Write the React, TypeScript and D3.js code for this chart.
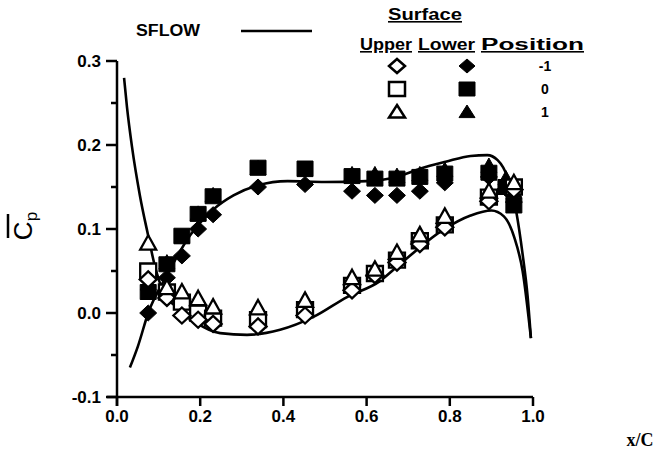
import React from "react";
import * as d3 from "d3";

// ---------- data ----------
const xTicks = [0, 0.2, 0.4, 0.6, 0.8, 1.0];
const yTicks = [-0.1, 0, 0.1, 0.2, 0.3];
const yMinor = [-0.05, 0.05, 0.15, 0.25];

const stations = [0.075, 0.12, 0.156, 0.195, 0.231, 0.339, 0.452, 0.565, 0.62, 0.673, 0.728, 0.788, 0.894, 0.935, 0.954];

// lower surface (filled)
const lowerDiamond = [0.0, 0.042, 0.068, 0.1, 0.117, 0.15, 0.153, 0.145, 0.14, 0.14, 0.145, 0.155, 0.162, 0.148, 0.132];
const lowerSquare = [0.025, 0.058, 0.092, 0.118, 0.139, 0.173, 0.172, 0.163, 0.16, 0.16, 0.162, 0.166, 0.167, 0.15, 0.128];
const lowerTriangle = [0.035, 0.06, 0.09, 0.118, 0.14, 0.172, 0.17, 0.165, 0.165, 0.163, 0.165, 0.17, 0.175, 0.16, 0.145];

// upper surface (open) - no reading at the 13th station
const upperDiamond = [0.04, 0.018, -0.003, -0.008, -0.013, -0.016, -0.003, 0.027, 0.045, 0.06, 0.082, 0.102, 0.133, null, 0.147];
const upperSquare = [0.05, 0.025, 0.013, 0.0, -0.006, -0.008, 0.004, 0.033, 0.047, 0.063, 0.086, 0.105, 0.138, null, 0.15];
const upperTriangle = [0.083, 0.03, 0.025, 0.017, 0.007, 0.006, 0.015, 0.042, 0.052, 0.072, 0.093, 0.115, 0.145, null, 0.155];

// SFLOW curves
const sflowLowerX = [0.031, 0.05, 0.075, 0.12, 0.175, 0.231, 0.28, 0.339, 0.41, 0.5, 0.6, 0.673, 0.73, 0.79, 0.85, 0.89, 0.915, 0.94, 0.96, 0.975, 0.987, 0.995];
const sflowLowerY = [-0.065, -0.04, 0.0, 0.045, 0.092, 0.123, 0.14, 0.152, 0.157, 0.156, 0.157, 0.162, 0.172, 0.18, 0.187, 0.188, 0.182, 0.16, 0.12, 0.07, 0.02, -0.03];
const sflowUpperX = [0.017, 0.024, 0.036, 0.055, 0.075, 0.09, 0.11, 0.151, 0.192, 0.248, 0.3125, 0.392, 0.471, 0.553, 0.632, 0.673, 0.784, 0.85, 0.9, 0.93, 0.955, 0.975, 0.995];
const sflowUpperY = [0.28, 0.245, 0.198, 0.14, 0.092, 0.058, 0.027, 0.004, -0.012, -0.024, -0.026, -0.02, -0.005, 0.019, 0.038, 0.055, 0.099, 0.116, 0.122, 0.115, 0.09, 0.05, -0.03];

const legendRows = ["-1", "0", "1"];

// ---------- helpers ----------
type Shape = "diamond" | "square" | "triangle";
function markerPath(shape: Shape, cx: number, cy: number, w: number, h: number) {
  if (shape === "square") return `M${cx - w},${cy - h}H${cx + w}V${cy + h}H${cx - w}Z`;
  if (shape === "diamond") return `M${cx},${cy - h}L${cx + w},${cy}L${cx},${cy + h}L${cx - w},${cy}Z`;
  return `M${cx},${cy - h}L${cx + w},${cy + h * 0.8}L${cx - w},${cy + h * 0.8}Z`;
}

const FONT = "'Liberation Sans', Arial, sans-serif";

export default function App() {
  const width = 666;
  const height = 464;
  const x = d3.scaleLinear().domain([0, 1]).range([117, 533]);
  const y = d3.scaleLinear().domain([-0.1, 0.3]).range([397, 61]);

  const line = d3
    .line<[number, number]>()
    .x((d) => x(d[0]))
    .y((d) => y(d[1]))
    .curve(d3.curveMonotoneX);

  const lowerCurve = line(sflowLowerX.map((v, i) => [v, sflowLowerY[i]] as [number, number])) || "";
  const upperCurve = line(sflowUpperX.map((v, i) => [v, sflowUpperY[i]] as [number, number])) || "";

  const series: { shape: Shape; filled: boolean; vals: (number | null)[] }[] = [
    { shape: "square", filled: true, vals: lowerSquare },
    { shape: "diamond", filled: true, vals: lowerDiamond },
    { shape: "triangle", filled: true, vals: lowerTriangle },
    { shape: "square", filled: false, vals: upperSquare },
    { shape: "diamond", filled: false, vals: upperDiamond },
    { shape: "triangle", filled: false, vals: upperTriangle },
  ];

  const size = (s: Shape) =>
    s === "square" ? [8, 7.5] : s === "diamond" ? [8.5, 8] : [8, 8];

  const legendShapes: Shape[] = ["diamond", "square", "triangle"];
  const legendY = [66, 89, 112];

  return (
    <svg
      width={width}
      height={height}
      style={{ display: "block", background: "#fff", position: "absolute", left: 0, top: 0 }}
    >
      {/* axes */}
      <g stroke="#000" strokeWidth={2.5} fill="none">
        <line x1={x(0)} x2={x(0)} y1={y(0.3)} y2={y(-0.1) + 9} />
        <line x1={x(0) - 10} x2={x(1)} y1={y(-0.1)} y2={y(-0.1)} />
        {yTicks.map((t) => (
          <line key={"yt" + t} x1={x(0) - 11} x2={x(0)} y1={y(t)} y2={y(t)} />
        ))}
        {yMinor.map((t) => (
          <line key={"ym" + t} x1={x(0) - 6} x2={x(0)} y1={y(t)} y2={y(t)} />
        ))}
        {xTicks.map((t) => (
          <line key={"xt" + t} x1={x(t)} x2={x(t)} y1={y(-0.1)} y2={y(-0.1) + 9} />
        ))}
      </g>
      <g fontFamily={FONT} fontWeight="bold" fontSize={17} fill="#000">
        {yTicks.map((t) => (
          <text key={"yl" + t} x={x(0) - 16} y={y(t)} textAnchor="end" dominantBaseline="central">
            {t.toFixed(1)}
          </text>
        ))}
        {xTicks.map((t) => (
          <text key={"xl" + t} x={x(t)} y={y(-0.1) + 25} textAnchor="middle">
            {t.toFixed(1)}
          </text>
        ))}
      </g>
      <text x={640} y={446} textAnchor="middle" fontFamily="'Liberation Serif', serif" fontWeight="bold" fontSize={18}>
        x/C
      </text>
      {/* y label */}
      <g transform={`translate(32, 226) rotate(-90)`}>
        <text x={0} y={0} textAnchor="middle" fontFamily={FONT} fontSize={26}>
          C<tspan fontSize={17} dy={5}>p</tspan>
        </text>
        <line x1={-12} x2={12} y1={-24} y2={-24} stroke="#000" strokeWidth={2.5} />
      </g>

      {/* SFLOW curves */}
      <path d={lowerCurve} fill="none" stroke="#000" strokeWidth={2.6} />
      <path d={upperCurve} fill="none" stroke="#000" strokeWidth={2.6} />

      {/* data markers */}
      {series.map((s, si) =>
        s.vals.map((v, i) => {
          if (v === null) return null;
          const [w, h] = size(s.shape);
          return (
            <path
              key={si + "-" + i}
              d={markerPath(s.shape, x(stations[i]), y(v), w, h)}
              fill={s.filled ? "#000" : "#fff"}
              stroke="#000"
              strokeWidth={s.filled ? 1 : 2.3}
              strokeLinejoin="miter"
            />
          );
        })
      )}

      {/* legend */}
      <g fontFamily={FONT} fontWeight="bold" fill="#000">
        <text x={136} y={36} fontSize={16} textLength={64} lengthAdjust="spacingAndGlyphs">SFLOW</text>
        <line x1={241} x2={312} y1={31} y2={31} stroke="#000" strokeWidth={2.5} />
        <text x={388} y={20} fontSize={16} textLength={74} lengthAdjust="spacingAndGlyphs" textDecoration="underline">Surface</text>
        <text x={360} y={50} fontSize={16} textLength={52} lengthAdjust="spacingAndGlyphs" textDecoration="underline">Upper</text>
        <text x={418} y={50} fontSize={16} textLength={57} lengthAdjust="spacingAndGlyphs" textDecoration="underline">Lower</text>
        <text x={481} y={50} fontSize={16} textLength={103} lengthAdjust="spacingAndGlyphs" textDecoration="underline">Position</text>
        {legendShapes.map((sh, r) => (
          <g key={"lg" + r}>
            <path d={markerPath(sh, 397, legendY[r], 8, 7)} fill="#fff" stroke="#000" strokeWidth={2.5} />
            <path d={markerPath(sh, 467, legendY[r], 8, 7)} fill="#000" stroke="#000" strokeWidth={1} />
            <text x={545} y={legendY[r]} fontSize={14} textAnchor="middle" dominantBaseline="central">
              {legendRows[r]}
            </text>
          </g>
        ))}
      </g>
    </svg>
  );
}
